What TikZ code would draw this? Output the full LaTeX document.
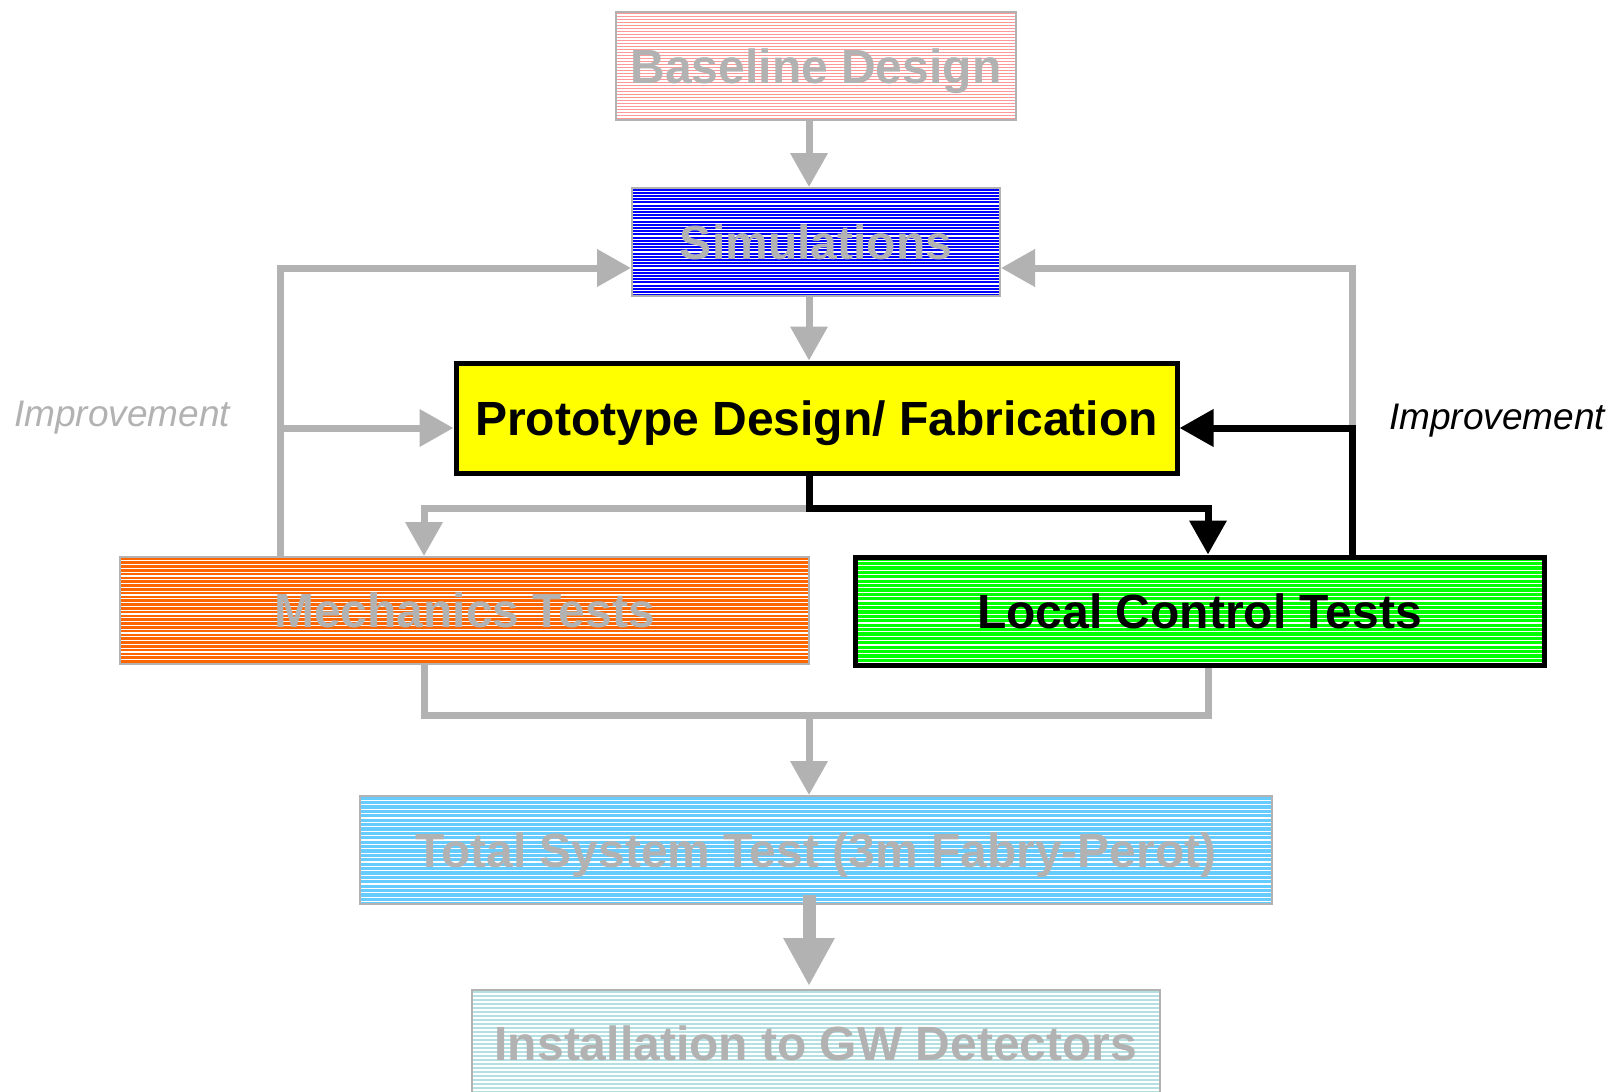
\documentclass[tikz,border=0pt]{standalone}
\usepackage{fontspec}
\setmainfont{Liberation Sans}
\usetikzlibrary{arrows.meta}
\definecolor{lgray}{RGB}{178,178,178}
\definecolor{cpink}{RGB}{255,153,153}
\definecolor{cblue}{RGB}{0,0,255}
\definecolor{cyel}{RGB}{255,255,0}
\definecolor{corange}{RGB}{255,102,0}
\definecolor{cgreen}{RGB}{0,255,0}
\definecolor{csky}{RGB}{102,204,255}
\definecolor{cteal}{RGB}{180,224,226}
\tikzset{
  striped/.style={path picture={
    \foreach \k in {1,...,60}{
      \draw[white,line width=0.6pt]
        ([yshift={-\k*#1}]path picture bounding box.north west) --
        ([yshift={-\k*#1}]path picture bounding box.north east);
    }}},
  gbox/.style={draw=lgray, line width=1pt, inner sep=0pt, text=lgray,
    text height=17.2pt, text depth=0pt,
    font=\bfseries\fontsize{24}{28}\selectfont},
  kbox/.style={draw=black, line width=2.5pt, inner sep=0pt, text=black,
    text height=17.2pt, text depth=0pt,
    font=\bfseries\fontsize{24}{28}\selectfont},
  gline/.style={draw=lgray, line width=3.5pt, line join=miter},
  garrow/.style={gline, -{Triangle[length=17pt,width=18pt]}},
  bline/.style={draw=black, line width=3.5pt, line join=miter},
  barrow/.style={bline, -{Triangle[length=17pt,width=18pt]}},
  imp/.style={font=\itshape\fontsize{18.5}{22}\selectfont, inner sep=0pt},
}
\begin{document}
\begin{tikzpicture}[x=0.5pt,y=-0.5pt]
\useasboundingbox[fill=white] (0,0) rectangle (1613,1092);

\node[gbox, fill=cpink, striped=1.5pt, minimum width=200pt, minimum height=54pt] (base) at (816,66) {Baseline Design};
\node[gbox, fill=cblue, striped=1.6pt, minimum width=184pt, minimum height=54pt] (sim) at (816,242) {Simulations};
\node[kbox, fill=cyel, minimum width=360.5pt, minimum height=55pt] (proto) at (816.5,418) {Prototype Design/ Fabrication};
\node[gbox, fill=corange, striped=1.9pt, minimum width=344.5pt, minimum height=53.5pt] (mech) at (464.5,610.5) {Mechanics Tests};
\node[kbox, fill=cgreen, striped=2.2pt, minimum width=344.5pt, minimum height=54pt] (local) at (1199.5,611) {Local Control Tests};
\node[gbox, fill=csky, striped=2.2pt, minimum width=456pt, minimum height=54pt] (total) at (816,850) {Total System Test (3m Fabry-Perot)};
\node[gbox, fill=cteal, striped=2pt, minimum width=344pt, minimum height=53pt] (inst) at (816,1043) {Installation to GW Detectors};

\node[imp, text=lgray] (impL) at (122,418) {Improvement};
\node[imp, text=black] (impR) at (1497,421) {Improvement};

\coordinate (spine) at (809,0);
\coordinate (L) at (280,0);
\coordinate (R) at (1352,0);
\coordinate (MX) at (424,0);
\coordinate (LX) at (1208,0);
\coordinate (ytop) at (0,268);
\coordinate (ymid) at (0,428);
\coordinate (ysplit) at (0,508);
\coordinate (ybot) at (0,715);
\coordinate (bigstart) at (809,895);

\draw[garrow] (base.south -| spine) -- (sim.north -| spine);
\draw[garrow] (sim.south -| spine) -- (proto.north -| spine);

% left improvement loop
\draw[garrow] (mech.north -| L) -- (L |- ytop) -- (sim.west |- ytop);
\draw[garrow] (L |- ymid) -- (proto.west |- ymid);

% right improvement loop
\draw[garrow] (R |- ymid) -- (R |- ytop) -- (sim.east |- ytop);
\draw[barrow] (local.north -| R) -- (R |- ymid) -- (proto.east |- ymid);

% split below prototype
\draw[garrow] (spine |- ysplit) -- (MX |- ysplit) -- (mech.north -| MX);
\draw[barrow] (proto.south -| spine) -- (spine |- ysplit) -- (LX |- ysplit) -- (local.north -| LX);

% merge to total
\draw[gline] (mech.south -| MX) -- (MX |- ybot) -- (LX |- ybot) -- (local.south -| LX);
\draw[garrow] (spine |- ybot) -- (total.north -| spine);

% big arrow
\draw[draw=lgray, line width=6.5pt, -{Triangle[length=24pt,width=24pt]}, shorten >=1.5pt] (bigstart) -- (inst.north -| spine);
\end{tikzpicture}
\end{document}
